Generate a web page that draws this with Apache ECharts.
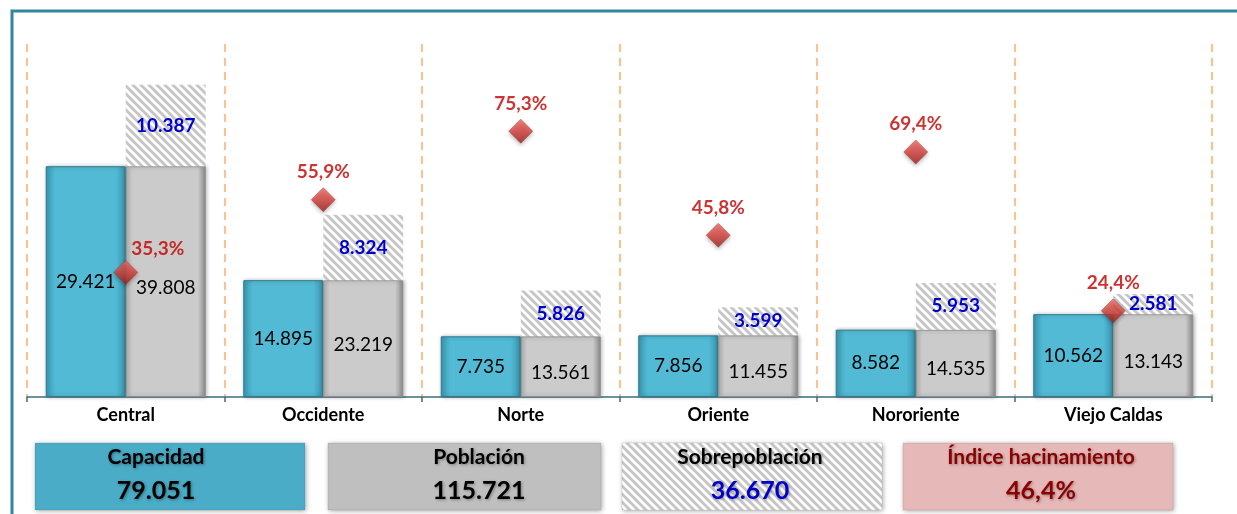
<!DOCTYPE html>
<html>
<head>
<meta charset="utf-8">
<script src="https://cdn.jsdelivr.net/npm/echarts@6/dist/echarts.min.js"></script>
<style>
	html, body { margin: 0; padding: 0; background: #fff; }
	#chart { width: 1237px; height: 514px; }
</style>
</head>
<body>
<div id="chart"></div>
<script>
var categorias = ['Central', 'Occidente', 'Norte', 'Oriente', 'Nororiente', 'Viejo Caldas'];
var capacidad = [29421, 14895, 7735, 7856, 8582, 10562];
var poblacion = [39808, 23219, 13561, 11455, 14535, 13143];
var sobrepoblacion = [10387, 8324, 5826, 3599, 5953, 2581];
var indice = [35.3, 55.9, 75.3, 45.8, 69.4, 24.4]; // % hacinamiento

var FONT = 'Lato, "Open Sans", sans-serif';

function miles(n) {
	return String(n).replace(/\B(?=(\d{3})+(?!\d))/g, '.');
}
function pct(v) {
	return v.toFixed(1).replace('.', ',') + '%';
}
function sum(arr) {
	var s = 0;
	for(var i = 0; i < arr.length; i++) s += arr[i];
	return s;
}

// rayado diagonal para sobrepoblacion
function rayado() {
	var s = 8;
	var c = document.createElement('canvas');
	c.width = s;
	c.height = s;
	var ctx = c.getContext('2d');
	ctx.fillStyle = '#ffffff';
	ctx.fillRect(0, 0, s, s);
	ctx.strokeStyle = '#c6c6c6';
	ctx.lineWidth = 3;
	for(var k = -1; k <= 1; k++) {
		ctx.beginPath();
		ctx.moveTo(k * s - 1, -1);
		ctx.lineTo(k * s + s + 1, s + 1);
		ctx.stroke();
	}
	return c;
}
var patron = { image: rayado(), repeat: 'repeat' };

// altura de la barra gris = poblacion - sobrepoblacion
var baseGris = [];
for(var i = 0; i < poblacion.length; i++) {
	baseGris.push(poblacion[i] - sobrepoblacion[i]);
}

var indiceData = [];
for(var i = 0; i < indice.length; i++) {
	var item = { value: indice[i] };
	if(i == 0) item.label = { offset: [32, 4] };
	indiceData.push(item);
}

var totalCap = sum(capacidad);
var totalPob = sum(poblacion);
var totalSob = sum(sobrepoblacion);
var totalInd = totalSob / totalCap * 100;

var myChart = echarts.init(document.getElementById('chart'));

function caja(x, w, fill, titulo, valor, colTitulo, colValor, cx) {
	return [{
		type: 'rect',
		shape: { x: x, y: 443, width: w, height: 67 },
		style: {
			fill: fill,
			stroke: 'rgba(0,0,0,0.08)',
			shadowBlur: 5,
			shadowColor: 'rgba(0,0,0,0.35)',
			shadowOffsetX: 1,
			shadowOffsetY: 1
		}
	}, {
		type: 'text',
		x: cx, y: 457,
		style: {
			text: titulo, fill: colTitulo, font: 'bold 21px ' + FONT,
			align: 'center', verticalAlign: 'middle',
			textShadowBlur: 3, textShadowColor: 'rgba(0,0,0,0.35)', textShadowOffsetX: 1, textShadowOffsetY: 1
		}
	}, {
		type: 'text',
		x: cx, y: 491,
		style: {
			text: valor, fill: colValor, font: 'bold 25px ' + FONT,
			align: 'center', verticalAlign: 'middle',
			textShadowBlur: 3, textShadowColor: 'rgba(0,0,0,0.35)', textShadowOffsetX: 1, textShadowOffsetY: 1
		}
	}];
}

var graficos = [{
	type: 'polyline',
	shape: { points: [[12, 514], [12, 11], [1237, 11]] },
	style: { stroke: '#31869d', lineWidth: 3, fill: null }
}];
graficos = graficos
	.concat(caja(35, 270, '#4aacc6', 'Capacidad', miles(totalCap), '#000', '#000', 156))
	.concat(caja(328, 273, '#bfbfbf', 'Población', miles(totalPob), '#000', '#000', 479))
	.concat(caja(622, 260, patron, 'Sobrepoblación', miles(totalSob), '#000', '#0000cc', 750))
	.concat(caja(903, 270, '#e6b8b7', 'Índice hacinamiento', pct(totalInd), '#8b0000', '#8b0000', 1041));

var option = {
	animation: false,
	grid: {
		left: 27,
		right: 25,
		top: 44,
		bottom: 117
	},
	xAxis: {
		type: 'category',
		data: categorias,
		axisLine: { lineStyle: { color: '#3b6e7c', width: 1.5 } },
		axisTick: { show: true, length: 5, lineStyle: { color: '#3b6e7c', width: 1.5 } },
		axisLabel: { color: '#000', fontWeight: 'bold', fontSize: 18, fontFamily: FONT, margin: 9 },
		splitLine: { show: true, lineStyle: { color: '#fbc18f', type: [8, 6], width: 2 } }
	},
	yAxis: [{
		type: 'value', min: 0, max: 45000, show: false, splitLine: { show: false }
	}, {
		type: 'value', min: 0, max: 100, show: false, splitLine: { show: false }
	}],
	series: [{
		name: 'Capacidad',
		type: 'bar',
		barWidth: 80,
		barGap: '0%',
		data: capacidad,
		itemStyle: {
			color: new echarts.graphic.LinearGradient(0, 0, 1, 0, [
				{ offset: 0, color: '#3a9ab3' },
				{ offset: 0.12, color: '#52bad4' },
				{ offset: 0.88, color: '#52bad4' },
				{ offset: 1, color: '#3893ab' }
			]),
			borderColor: '#2c7b90',
			borderWidth: 1,
			shadowBlur: 4,
			shadowColor: 'rgba(0,0,0,0.3)',
			shadowOffsetX: 1
		},
		label: {
			show: true, position: 'inside', color: '#000', fontSize: 19, fontFamily: FONT,
			formatter: function(p) { return miles(p.value); }
		}
	}, {
		name: 'Población',
		type: 'bar',
		stack: 'pob',
		barWidth: 80,
		data: baseGris,
		itemStyle: {
			color: new echarts.graphic.LinearGradient(0, 0, 1, 0, [
				{ offset: 0, color: '#b4b4b4' },
				{ offset: 0.08, color: '#cbcbcb' },
				{ offset: 0.9, color: '#cbcbcb' },
				{ offset: 1, color: '#8a8a8a' }
			]),
			borderColor: '#8f8f8f',
			borderWidth: 1,
			shadowBlur: 4,
			shadowColor: 'rgba(0,0,0,0.3)',
			shadowOffsetX: 1
		},
		label: {
			show: true, position: 'inside', color: '#000', fontSize: 19, fontFamily: FONT, offset: [0, 6],
			formatter: function(p) { return miles(poblacion[p.dataIndex]); }
		}
	}, {
		name: 'Sobrepoblación',
		type: 'bar',
		stack: 'pob',
		barWidth: 80,
		data: sobrepoblacion,
		itemStyle: { color: patron },
		label: {
			show: true, position: 'inside', color: '#0000cc', fontWeight: 'bold', fontSize: 19, fontFamily: FONT,
			formatter: function(p) { return miles(p.value); }
		}
	}, {
		name: 'Índice hacinamiento',
		type: 'scatter',
		yAxisIndex: 1,
		symbol: 'diamond',
		symbolSize: [24, 24],
		data: indiceData,
		z: 5,
		itemStyle: {
			color: new echarts.graphic.LinearGradient(0, 0, 0, 1, [
				{ offset: 0, color: '#ee6a62' },
				{ offset: 0.5, color: '#d6403b' },
				{ offset: 1, color: '#9c1f1c' }
			]),
			borderColor: '#a52521',
			borderWidth: 0.5,
			shadowBlur: 4,
			shadowColor: 'rgba(0,0,0,0.35)',
			shadowOffsetY: 2
		},
		label: {
			show: true, position: 'top', distance: 6, color: '#c00000', fontWeight: 'bold', fontSize: 19, fontFamily: FONT,
			formatter: function(p) { return pct(p.value); }
		}
	}],
	graphic: graficos
};

myChart.setOption(option);
</script>
</body>
</html>
